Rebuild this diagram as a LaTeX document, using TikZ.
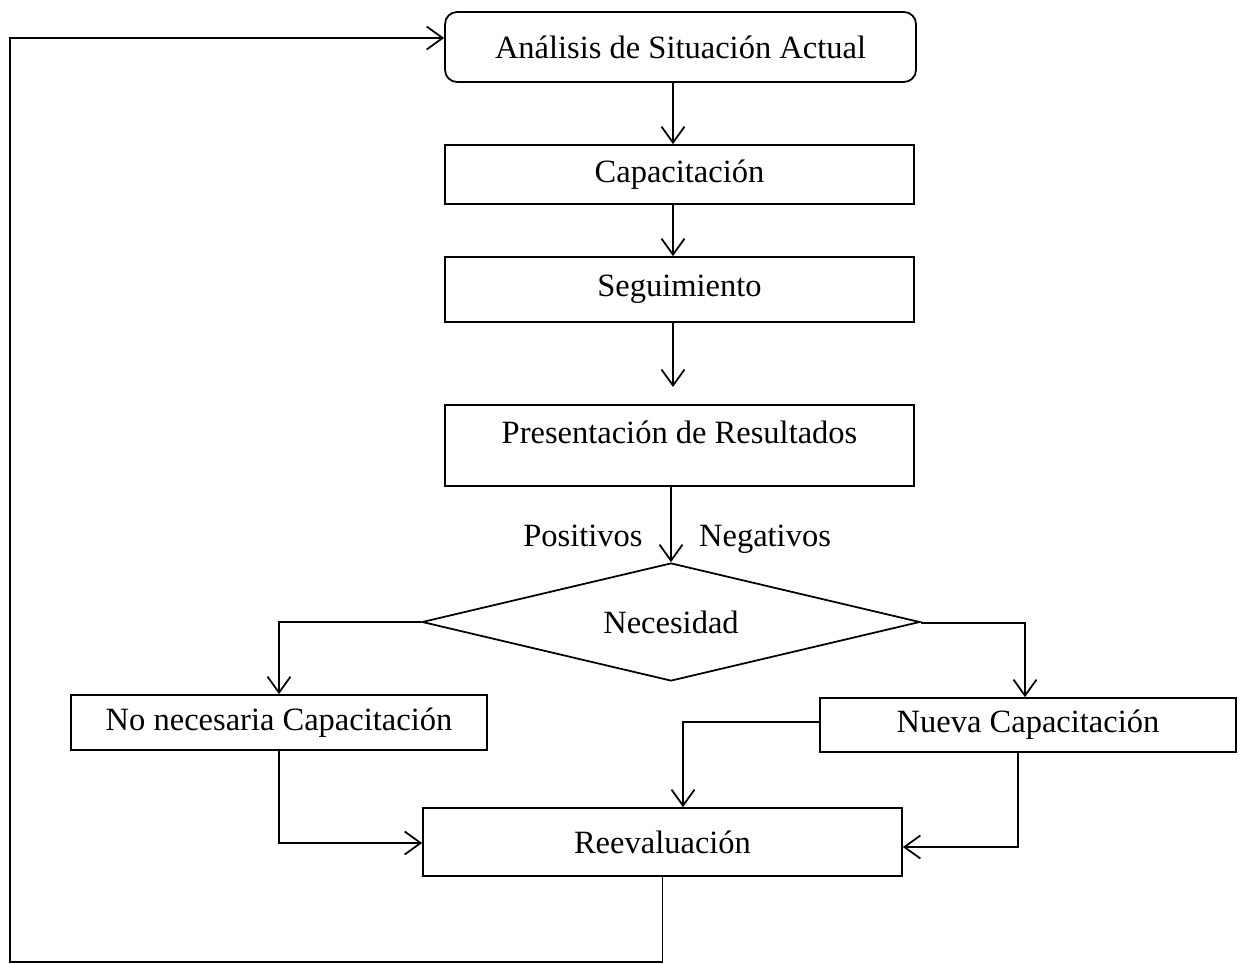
\documentclass[tikz,border=0pt]{standalone}
\usepackage{fontspec}
\setmainfont{Liberation Serif}
\usepackage{tikz}
\usetikzlibrary{arrows.meta,positioning,calc,shapes.geometric}
\tikzset{
  >={Straight Barb[length=3.2mm,width=4.6mm,line width=1pt]},
  box/.style={draw,line width=1pt,inner sep=2pt,font=\fontsize{18.5}{22}\selectfont,align=center,fill=white},
  rbox/.style={box,rounded corners=2.4mm},
  dbox/.style={box,diamond,inner sep=0pt,shape aspect=4.2},
  lab/.style={font=\fontsize{18.5}{22}\selectfont,align=center,anchor=base},
  arr/.style={->,draw,line width=1pt},
}
\begin{document}
\begin{tikzpicture}[x=0.02cm,y=-0.02cm]
\useasboundingbox (0,0) rectangle (1243,963);
% Main column
\coordinate (spine) at (673,0);
\node[rbox,minimum width=94.2mm,minimum height=14mm] (ana) at (680.5,47) {Análisis de Situación Actual};
\node[box,minimum width=93.8mm,minimum height=11.8mm] (cap) at (679.5,174.5) {Capacitación};
\node[box,minimum width=93.8mm,minimum height=13mm] (seg) at (679.5,289.5) {Seguimiento};
\node[box,minimum width=93.8mm,minimum height=16.2mm,text depth=5.5mm] (pres) at (679.5,445.5) {Presentación de Resultados};
\coordinate (segtip) at (673,387);
\draw[arr] (ana.south -| spine) -- (cap.north -| spine);
\draw[arr] (cap.south -| spine) -- (seg.north -| spine);
\draw[arr] (seg.south -| spine) -- (segtip);
% Decision
\node[dbox,minimum width=99.6mm,minimum height=23.6mm] (nec) at (671,622) {Necesidad};
\draw[arr] (pres.south -| nec.north) -- (nec.north);
\node[lab] (pos) at (583,546) {Positivos};
\node[lab] (neg) at (765,546) {Negativos};
% Branches
\node[box,minimum width=83.2mm,minimum height=11mm] (nonec) at (279,722.5) {No necesaria Capacitación};
\node[box,minimum width=83.2mm,minimum height=10.8mm] (nueva) at (1028,725) {Nueva Capacitación};
\node[box,minimum width=95.8mm,minimum height=13.6mm] (reev) at (662.5,842) {Reevaluación};
\draw[arr] (nec.west) -| (nonec.north);
\draw[arr] ([yshift=-0.2mm]nec.east) -| ([xshift=-0.6mm]nueva.north);
\draw[arr] ([yshift=0.6mm]nueva.west) -| ([xshift=4.1mm]reev.north);
\draw[arr] (nonec.south) |- ([yshift=-0.2mm]reev.west);
\draw[arr] ([xshift=-2mm]nueva.south) |- ([yshift=-1mm]reev.east);
% Loop back
\coordinate (lowleft) at (10,962);
\draw[arr] (reev.south) |- (lowleft) |- ([yshift=1.8mm]ana.west);
\end{tikzpicture}
\end{document}
